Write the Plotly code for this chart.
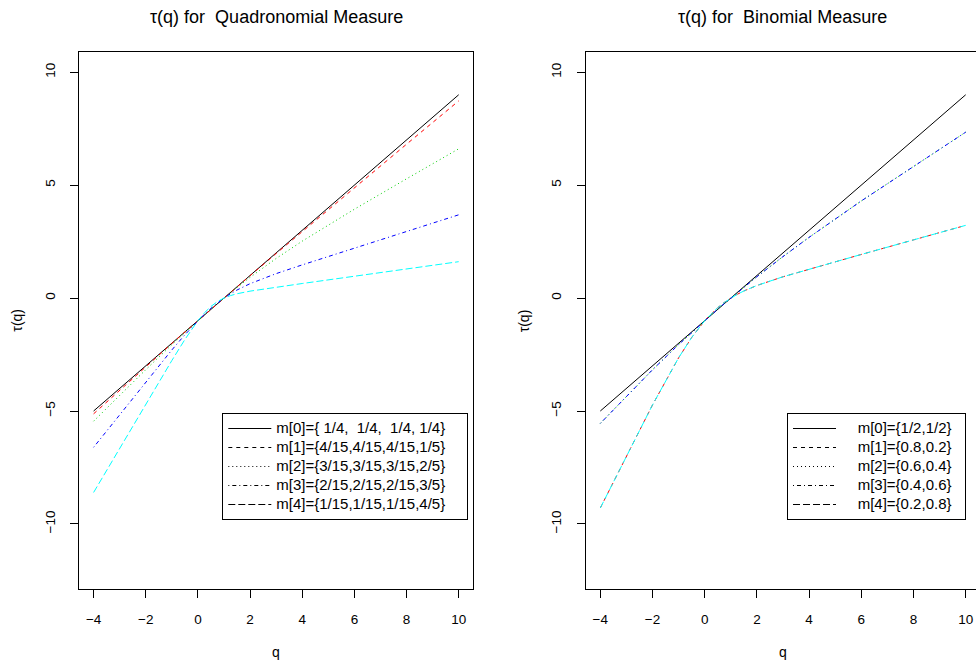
import plotly.graph_objects as go

# ---------------- data ----------------
q = [-4, -3, -2, -1, -0.5, 0, 0.25, 0.5, 0.75, 1, 1.25, 1.5, 2, 3, 4, 6, 8, 10]

# Quadronomial measure, tau(q)
quad_m0 = [-5, -4, -3, -2, -1.5, -1, -0.75, -0.5, -0.25, 0, 0.25, 0.5, 1, 2, 3, 5, 7, 9]
quad_m1 = [-5.125, -4.073, -3.035, -2.011, -1.504, -1, -0.749, -0.499, -0.249, 0, 0.248, 0.496, 0.990, 1.973, 2.949, 4.887, 6.811, 8.729]
quad_m2 = [-5.451, -4.305, -3.172, -2.065, -1.526, -1, -0.743, -0.491, -0.243, 0, 0.238, 0.470, 0.918, 1.753, 2.520, 3.933, 5.279, 6.608]
quad_m3 = [-6.607, -5.156, -3.711, -2.298, -1.625, -1, -0.715, -0.452, -0.213, 0, 0.189, 0.356, 0.637, 1.082, 1.469, 2.211, 2.948, 3.685]
quad_m4 = [-8.606, -6.653, -4.701, -2.766, -1.836, -1, -0.652, -0.370, -0.155, 0, 0.110, 0.191, 0.307, 0.482, 0.644, 0.966, 1.288, 1.610]

# Binomial measure, tau(q)
bin_m0 = [-5, -4, -3, -2, -1.5, -1, -0.75, -0.5, -0.25, 0, 0.25, 0.5, 1, 2, 3, 5, 7, 9]
bin_m1 = [-9.293, -6.988, -4.731, -2.644, -1.746, -1, -0.691, -0.424, -0.195, 0, 0.168, 0.313, 0.556, 0.943, 1.282, 1.931, 2.575, 3.219]
bin_m2 = [-5.548, -4.340, -3.174, -2.059, -1.522, -1, -0.744, -0.493, -0.245, 0, 0.241, 0.478, 0.943, 1.837, 2.688, 4.300, 5.841, 7.345]
bin_m3 = list(bin_m2)
bin_m4 = list(bin_m1)

quad_labels = ["m[0]={ 1/4,  1/4,  1/4, 1/4}", "m[1]={4/15,4/15,4/15,1/5}",
               "m[2]={3/15,3/15,3/15,2/5}", "m[3]={2/15,2/15,2/15,3/5}",
               "m[4]={1/15,1/15,1/15,4/5}"]
bin_labels = ["m[0]={1/2,1/2}", "m[1]={0.8,0.2}", "m[2]={0.6,0.4}",
              "m[3]={0.4,0.6}", "m[4]={0.2,0.8}"]

x_ticks = [-4, -2, 0, 2, 4, 6, 8, 10]
y_ticks = [-10, -5, 0, 5, 10]

# ---------------- styles ----------------
colors = ["#000000", "#FF0000", "#00CD00", "#0000FF", "#00FFFF"]
dashes = ["solid", "4px,4px", "1px,3px", "1px,3px,4px,3px", "7px,3px"]
FONT = "Liberation Sans, Arial, Helvetica, sans-serif"
W, H = 976, 664

def px_x(p):
    return p / W

def px_y(p):
    return 1 - p / H

fig = go.Figure()

panels = [
    (quad_m0, quad_m1, quad_m2, quad_m3, quad_m4),
    (bin_m0, bin_m1, bin_m2, bin_m3, bin_m4),
]
for pi, series in enumerate(panels):
    xa = "x" if pi == 0 else "x2"
    ya = "y" if pi == 0 else "y2"
    for k, ys in enumerate(series):
        fig.add_trace(go.Scatter(x=q, y=ys, mode="lines", xaxis=xa, yaxis=ya,
                                 line=dict(color=colors[k], dash=dashes[k], width=1),
                                 showlegend=False, hoverinfo="skip"))

nb = "\u00a0"
def leg_name(lab, lead, trail):
    return '<span style="font-size:15px">' + nb * lead + lab.replace(" ", nb) + nb * trail + "</span>"

for k, lab in enumerate(quad_labels):
    fig.add_trace(go.Scatter(x=[None], y=[None], mode="lines", xaxis="x", yaxis="y",
                             line=dict(color="black", dash=dashes[k], width=1),
                             name=leg_name(lab, 0, 4), legend="legend"))
for k, lab in enumerate(bin_labels):
    fig.add_trace(go.Scatter(x=[None], y=[None], mode="lines", xaxis="x2", yaxis="y2",
                             line=dict(color="black", dash=dashes[k], width=1),
                             name=leg_name(lab, 4, 2), legend="legend2"))

ydom = [px_y(589), px_y(52.3)]
axis_common = dict(showgrid=False, zeroline=False, showline=True, linecolor="black",
                   linewidth=1, ticks="outside", ticklen=8, tickwidth=1, tickcolor="black",
                   tickfont=dict(family=FONT, size=13.5, color="black"), automargin=False)

leg_common = dict(xanchor="right", yanchor="bottom", bgcolor="white", bordercolor="black",
                  borderwidth=1, itemwidth=43,
                  font=dict(family=FONT, size=10.5, color="black"))

fig.update_layout(
    width=W, height=H,
    margin=dict(l=0, r=0, t=0, b=0),
    paper_bgcolor="white", plot_bgcolor="white",
    font=dict(family=FONT, color="black"),
    xaxis=dict(domain=[px_x(79), px_x(473.3)], range=[-4.56, 10.56], tickvals=x_ticks,
               mirror=True, anchor="y", ticklabelstandoff=10, **axis_common),
    yaxis=dict(domain=ydom, range=[-12.88, 10.88], tickvals=y_ticks, tickangle=-90,
               mirror=True, anchor="x", ticklabelstandoff=10, **axis_common),
    xaxis2=dict(domain=[px_x(585.7), 1.0], range=[-4.56, 10.395], tickvals=x_ticks,
                mirror=True, anchor="y2", ticklabelstandoff=10, **axis_common),
    yaxis2=dict(domain=ydom, range=[-12.88, 10.88], tickvals=y_ticks, tickangle=-90,
                mirror=False, anchor="x2", ticklabelstandoff=10, **axis_common),
    legend=dict(x=px_x(468.3), y=px_y(520), **leg_common),
    legend2=dict(x=px_x(966), y=px_y(520), **leg_common),
    showlegend=True,
)

left_c = px_x((79 + 473.3) / 2)
right_c = px_x((585.7 + 980) / 2)
ymid = px_y((52.3 + 589) / 2)
ann = []
for cx, title in [(left_c, "\u03c4(q) for  Quadronomial Measure"),
                  (right_c, "\u03c4(q) for  Binomial Measure")]:
    ann.append(dict(text=title.replace("  ", nb + " "), x=cx, y=px_y(17), xref="paper", yref="paper",
                    showarrow=False, xanchor="center", yanchor="middle",
                    font=dict(family=FONT, size=18, color="black")))
    ann.append(dict(text="q", x=cx, y=px_y(652), xref="paper", yref="paper",
                    showarrow=False, xanchor="center", yanchor="middle",
                    font=dict(family=FONT, size=14, color="black")))
for lx in [px_x(17), px_x(17 + 506.7)]:
    ann.append(dict(text="\u03c4(q)", x=lx, y=ymid, xref="paper", yref="paper",
                    showarrow=False, xanchor="center", yanchor="middle", textangle=-90,
                    font=dict(family=FONT, size=14, color="black")))
fig.update_layout(annotations=ann)

fig.write_html("out.html")
